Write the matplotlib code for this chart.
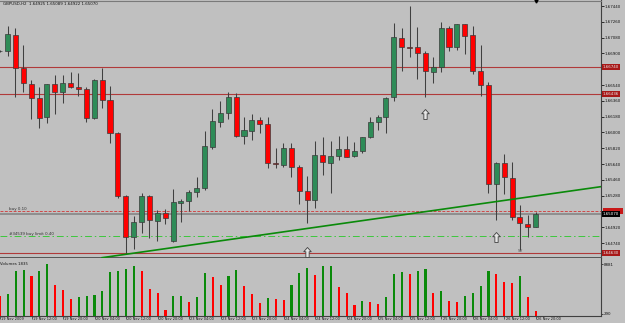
import numpy as np
import matplotlib
matplotlib.use("Agg")
import matplotlib.pyplot as plt
from matplotlib.path import Path
from matplotlib.patches import Rectangle
from matplotlib.transforms import blended_transform_factory

# ---------------- data ----------------
symbol = "GBPUSD,H2"
bars = list(range(-1, 68))
opens = [1.66933, 1.66931, 1.67110, 1.66730, 1.66552, 1.66389, 1.66172, 1.66548, 1.66457, 1.66559,
         1.66521, 1.66498, 1.66164, 1.66594, 1.66366, 1.65990, 1.65276, 1.64812, 1.64983, 1.65272,
         1.64991, 1.65079, 1.64760, 1.65192, 1.65219, 1.65318, 1.65363, 1.65837, 1.66122, 1.66218,
         1.66400, 1.65963, 1.66020, 1.66141, 1.66092, 1.65655, 1.65629, 1.65819, 1.65609, 1.65336,
         1.65230, 1.65743, 1.65648, 1.65735, 1.65808, 1.65728, 1.65788, 1.65944, 1.66122, 1.66172,
         1.66400, 1.67072, 1.66973, 1.66970, 1.66901, 1.66692, 1.66742, 1.67186, 1.66976, 1.67232,
         1.67110, 1.66700, 1.66540, 1.65409, 1.65648, 1.65477, 1.65033, 1.64960, 1.64925]
highs = [1.66939, 1.67216, 1.67195, 1.66996, 1.66597, 1.66521, 1.66557, 1.66654, 1.66654, 1.66685,
         1.66680, 1.66512, 1.66605, 1.66730, 1.66529, 1.66005, 1.65287, 1.65048, 1.65310, 1.65287,
         1.65116, 1.65122, 1.65355, 1.65236, 1.65344, 1.65495, 1.66020, 1.66263, 1.66358, 1.66464,
         1.66446, 1.66179, 1.66210, 1.66172, 1.66179, 1.65819, 1.65876, 1.65874, 1.65629, 1.65503,
         1.65902, 1.65944, 1.65902, 1.65959, 1.65959, 1.65894, 1.65953, 1.66172, 1.66198, 1.66409,
         1.67250, 1.67186, 1.67440, 1.67197, 1.66927, 1.66863, 1.67261, 1.67207, 1.67235, 1.67235,
         1.67212, 1.66996, 1.66578, 1.65663, 1.65754, 1.65660, 1.65173, 1.65059, 1.65089]
lows = [1.66916, 1.66874, 1.66407, 1.66464, 1.66153, 1.66047, 1.66104, 1.66206, 1.66338, 1.66506,
        1.66415, 1.66122, 1.66153, 1.66275, 1.65883, 1.65253, 1.64611, 1.64672, 1.64858, 1.64794,
        1.64763, 1.64957, 1.64757, 1.64983, 1.65105, 1.65268, 1.65344, 1.65814, 1.66058, 1.66149,
        1.65953, 1.65865, 1.65914, 1.65997, 1.65598, 1.65591, 1.65603, 1.65495, 1.65184, 1.64971,
        1.65142, 1.65515, 1.65306, 1.65686, 1.65716, 1.65716, 1.65769, 1.65933, 1.66027, 1.65997,
        1.66358, 1.66700, 1.66863, 1.66608, 1.66407, 1.66566, 1.66692, 1.66931, 1.66939, 1.66893,
        1.66665, 1.66415, 1.65306, 1.65002, 1.65298, 1.65002, 1.64660, 1.64805, 1.64922]
closes = [1.66924, 1.67118, 1.66737, 1.66559, 1.66392, 1.66168, 1.66548, 1.66460, 1.66566, 1.66514,
          1.66498, 1.66168, 1.66594, 1.66366, 1.65990, 1.65279, 1.64812, 1.64983, 1.65270, 1.64999,
          1.65085, 1.65022, 1.65204, 1.65219, 1.65318, 1.65363, 1.65845, 1.66130, 1.66225, 1.66400,
          1.65963, 1.66027, 1.66141, 1.66092, 1.65655, 1.65637, 1.65826, 1.65609, 1.65333, 1.65230,
          1.65739, 1.65666, 1.65731, 1.65814, 1.65723, 1.65792, 1.65944, 1.66122, 1.66172, 1.66389,
          1.67084, 1.66976, 1.66962, 1.66901, 1.66696, 1.66742, 1.67186, 1.66976, 1.67232, 1.67098,
          1.66700, 1.66540, 1.65409, 1.65648, 1.65489, 1.65040, 1.64965, 1.64926, 1.65070]
volumes = [3480, 3776, 7830, 8004, 6838, 7830, 8881, 5342, 4524, 2906,
           3306, 3428, 3602, 4228, 7656, 7743, 8178, 8648, 7830, 4698,
           3950, 922, 3428, 3480, 2436, 3306, 7482, 6664, 5394, 6838,
           7952, 5168, 3776, 2210, 3080, 2836, 2784, 5342, 7360, 8300,
           7012, 8613, 8700, 4924, 3950, 1862, 2610, 2436, 1966, 3306,
           7256, 7534, 7186, 7708, 8056, 3950, 4298, 2610, 2384, 3480,
           3950, 5220, 7830, 7186, 5864, 5742, 6960, 3254, 748]
volume_title = "Volumes 1835"
volume_ticks = [8881, 290]

price_ticks = [1.67440, 1.67260, 1.67080, 1.66900, 1.66720, 1.66540, 1.66360, 1.66180,
               1.66000, 1.65820, 1.65640, 1.65460, 1.65280, 1.65100, 1.64920, 1.64740]

time_tick_bars = [-1, 3, 7, 11, 15, 19, 23, 27, 31, 35, 39, 43, 47, 51, 55, 59, 63, 67]
time_tick_labels = ["19 Nov 2009", "19 Nov 12:00", "19 Nov 20:00", "20 Nov 04:00",
                    "20 Nov 12:00", "20 Nov 20:00", "23 Nov 04:00", "23 Nov 12:00",
                    "23 Nov 20:00", "24 Nov 04:00", "24 Nov 12:00", "24 Nov 20:00",
                    "25 Nov 04:00", "25 Nov 12:00", "25 Nov 20:00", "26 Nov 04:00",
                    "26 Nov 12:00", "26 Nov 20:00"]

level_prices = [1.66740, 1.66436, 1.64630]
buy_order_price = 1.65105
buy_order_label = "buy 0.10"
buy_limit_price = 1.64820
buy_limit_label = "#34539 buy limit 0.40"
bid_price = 1.65070
trend_bars = [12, 49]
trend_prices = [1.64573, 1.65046]
arrow_bars = [38, 53, 62]
arrow_prices = [1.64641, 1.66210, 1.64812]
sv_bar = 65
sv_price = 1.64648
sv_label = "SV"

# ---------------- layout ----------------
W, H, DPI = 625, 323, 100
BG = "#C0C0C0"
GREEN = "#2E8B57"
VGREEN = "#0A8A0A"
RED = "#FF0000"
LINE_RED = "#B03A3A"
DARK = "#3A3A3A"
TXT = "#141414"
PX_PER_BAR = 7.884
FIRST_BAR_PX = 7.5
PRICE_AT_Y0 = 1.675084
PRICE_PER_PX = 0.00011392
VOL_PER_PX = 174.0

fig = plt.figure(figsize=(W / DPI, H / DPI), dpi=DPI)
fig.patch.set_facecolor(BG)


def frect(x0, y0, x1, y1):
    return [x0 / W, 1 - y1 / H, (x1 - x0) / W, (y1 - y0) / H]


MAIN_TOP, MAIN_BOT, VOL_BOT, RIGHT = 0.5, 258.3, 315.5, 601
ax = fig.add_axes(frect(0, MAIN_TOP, RIGHT, MAIN_BOT))
axv = fig.add_axes(frect(0, MAIN_BOT, RIGHT, VOL_BOT))

xlim = (-FIRST_BAR_PX / PX_PER_BAR, (RIGHT - FIRST_BAR_PX) / PX_PER_BAR)
for a in (ax, axv):
    a.set_facecolor(BG)
    a.set_xlim(*xlim)
    a.spines["left"].set_visible(False)
    a.spines["right"].set_color("#404040")
    a.spines["right"].set_linewidth(0.8)
ax.set_ylim(PRICE_AT_Y0 - PRICE_PER_PX * MAIN_BOT, PRICE_AT_Y0 - PRICE_PER_PX * MAIN_TOP)
axv.set_ylim(0, VOL_PER_PX * (VOL_BOT - MAIN_BOT))

ax.spines["top"].set_color("#7A7A7A")
ax.spines["top"].set_linewidth(0.8)
ax.spines["bottom"].set_color("#555555")
ax.spines["bottom"].set_linewidth(1.4)
axv.spines["top"].set_visible(False)
axv.spines["bottom"].set_color("#404040")
axv.spines["bottom"].set_linewidth(0.8)

# ---------------- candles ----------------
x = np.array(bars, dtype=float)
o = np.array(opens); h = np.array(highs); l = np.array(lows); c = np.array(closes)
up = c > o
ax.vlines(x, l, h, color="#404040", linewidth=0.75, zorder=3)
ax.bar(x, np.abs(c - o), bottom=np.minimum(o, c), width=0.64,
       color=np.where(up, GREEN, RED), edgecolor=DARK, linewidth=0.5, zorder=4)

# ---------------- horizontal objects ----------------
for p in level_prices:
    ax.axhline(p, color=LINE_RED, linewidth=0.8, zorder=2)
ax.axhline(buy_order_price, color="#D04848", linewidth=0.7, dashes=(3, 1.5), zorder=2)
ax.axhline(bid_price, color="#8A8A8A", linewidth=1.3, zorder=2)
ax.axhline(buy_limit_price, color="#3CC83C", linewidth=0.7, dashes=(7, 3, 1.5, 3), zorder=2)

tb = np.array(trend_bars, dtype=float); tp = np.array(trend_prices)
slope = (tp[1] - tp[0]) / (tb[1] - tb[0])
tx = np.array([tb[0], xlim[1]])
ax.plot(tx, tp[0] + slope * (tx - tb[0]), color="#0A8A0A", linewidth=1.2, zorder=5)

ax.text(0.25, buy_order_price, buy_order_label, fontsize=2.9, color="#303030",
        ha="left", va="bottom", zorder=6)
ax.text(0.25, buy_limit_price, buy_limit_label, fontsize=2.9, color="#303030",
        ha="left", va="bottom", zorder=6)

# arrows
arrow = Path([(0, 1), (0.75, 0.15), (0.33, 0.15), (0.33, -1), (-0.33, -1),
              (-0.33, 0.15), (-0.75, 0.15), (0, 1)],
             [Path.MOVETO] + [Path.LINETO] * 6 + [Path.CLOSEPOLY])
ax.plot(arrow_bars, arrow_prices, ls="none", marker=arrow, ms=7.2, mfc="#E6E6E6",
        mec="#404040", mew=0.6, zorder=6)
ax.text(sv_bar, sv_price, sv_label, fontsize=2.9, color="#505050", ha="center",
        va="center", zorder=6)

# chart shift marker
ax.plot([bars[-1]], [1.0], marker="v", ms=2.2, color="black",
        transform=blended_transform_factory(ax.transData, ax.transAxes), clip_on=False, zorder=7)

# ---------------- price axis ----------------
box_prices = level_prices + [buy_order_price, bid_price]
ax.yaxis.tick_right()
ax.set_yticks(price_ticks)
ax.set_yticklabels(["" if min(abs(p - b) for b in box_prices) < 4 * PRICE_PER_PX else f"{p:.5f}"
                    for p in price_ticks])
ax.tick_params(axis="y", direction="out", length=2.2, width=0.6, colors=TXT,
               labelsize=2.9, pad=0.6)
ax.tick_params(axis="x", bottom=False, labelbottom=False)

trans_box = blended_transform_factory(ax.transAxes, ax.transData)


def price_box(p, fc, tc):
    ax.annotate(f"{p:.5f}", xy=(1, p), xycoords=("axes fraction", "data"),
                xytext=(2, 0), textcoords="offset pixels", ha="left", va="center",
                fontsize=2.9, color=tc, zorder=10, annotation_clip=False,
                bbox=dict(boxstyle="square,pad=0.25", fc=fc, ec="none"))


for p in level_prices:
    price_box(p, "#A81818", "#E8E8E8")
# order price tag: mostly hidden behind the bid tag, as in the terminal
ax.add_patch(Rectangle((1 + 1.5 / RIGHT, buy_order_price - 2.6 * PRICE_PER_PX), 20.5 / RIGHT,
                       5.2 * PRICE_PER_PX, transform=trans_box, facecolor="#C81818",
                       edgecolor="none", clip_on=False, zorder=9))
price_box(bid_price, "#000000", "#FFFFFF")

# header
last = -1
fig.text(3 / W, 1 - 4.3 / H,
         f"{symbol}  {opens[last]:.5f} {highs[last]:.5f} {lows[last]:.5f} {closes[last]:.5f}",
         fontsize=2.9, color=TXT, ha="left", va="center")

# ---------------- volumes ----------------
v = np.array(volumes)
vcol = [RED] + [VGREEN if v[i] > v[i - 1] else RED for i in range(1, len(v))]
axv.bar(x, v, width=0.27, color=vcol, zorder=3)
axv.yaxis.tick_right()
axv.set_yticks(volume_ticks)
axv.set_yticklabels([str(t) for t in volume_ticks])
axv.tick_params(axis="y", direction="out", length=1.5, width=0.5, colors=TXT,
                labelsize=2.9, pad=0.6)
axv.set_xticks(time_tick_bars)
axv.tick_params(axis="x", direction="out", length=2.0, width=0.5, colors="#303030",
                labelbottom=False)
axv.text(0.4 / RIGHT, 1 - 5.7 / (VOL_BOT - MAIN_BOT), volume_title, transform=axv.transAxes,
         fontsize=2.8, color=TXT, ha="left", va="center")
for b, lab in zip(time_tick_bars, time_tick_labels):
    axv.annotate(lab, xy=(b, 0), xycoords=("data", "axes fraction"), xytext=(1.3, -3.4),
                 textcoords="offset pixels", ha="left", va="center", fontsize=2.5,
                 color=TXT, annotation_clip=False)

fig.savefig("out.png", dpi=DPI, facecolor=BG)
